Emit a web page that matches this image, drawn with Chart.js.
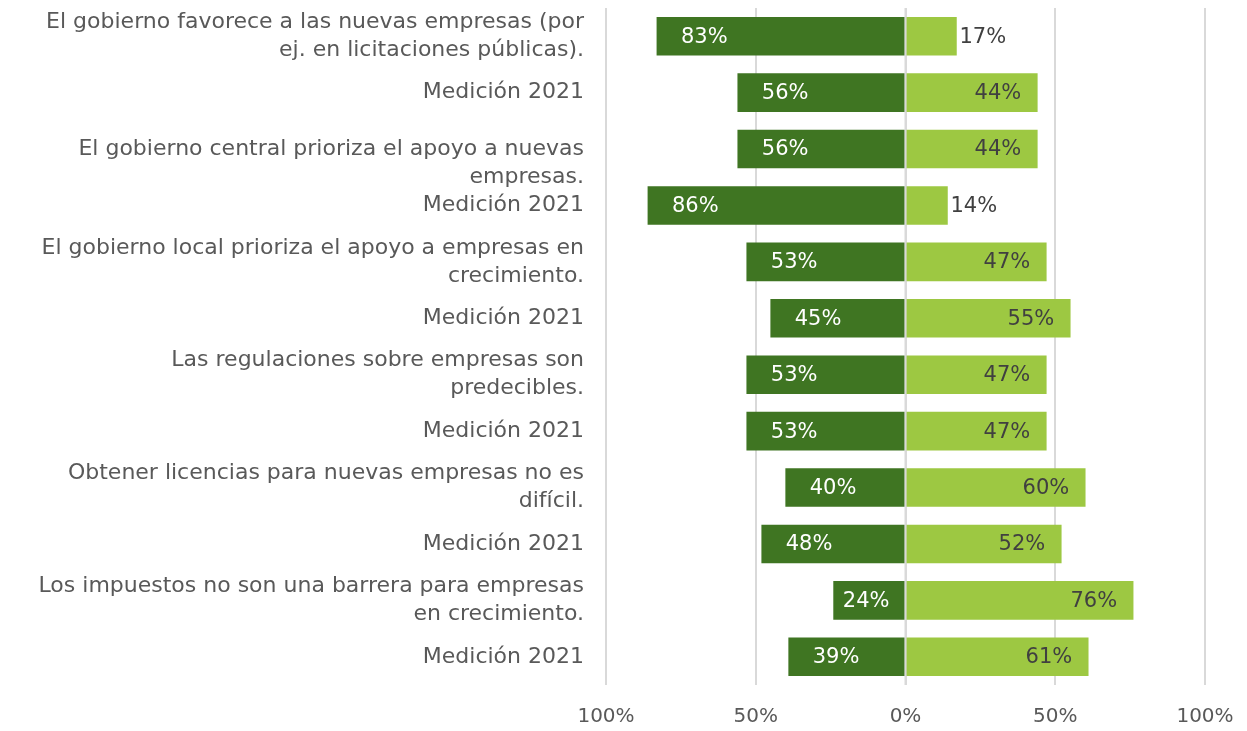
<!DOCTYPE html>
<html lang="es">
<head>
<meta charset="utf-8">
<script src="https://cdn.jsdelivr.net/npm/chart.js@4"></script>
<style>
  html, body { margin: 0; padding: 0; background: #fff; }
  #wrap { width: 1247px; height: 731px; }
</style>
</head>
<body>
<div id="wrap"><canvas id="chart"></canvas></div>
<script>
'use strict';

const FONT = "'DejaVu Sans', sans-serif";

const categories = [
  ['El gobierno favorece a las nuevas empresas (por', 'ej. en licitaciones públicas).'],
  'Medición 2021',
  ['', 'El gobierno central prioriza el apoyo a nuevas', 'empresas.'],
  'Medición 2021',
  ['El gobierno local prioriza el apoyo a empresas en', 'crecimiento.'],
  'Medición 2021',
  ['Las regulaciones sobre empresas son', 'predecibles.'],
  'Medición 2021',
  ['Obtener licencias para nuevas empresas no es', 'difícil.'],
  'Medición 2021',
  ['Los impuestos no son una barrera para empresas', 'en crecimiento.'],
  'Medición 2021'
];

// share of disagreement (drawn to the left) and agreement (to the right)
const disagree = [83, 56, 56, 86, 53, 45, 53, 53, 40, 48, 24, 39];
const agree = [17, 44, 44, 14, 47, 55, 47, 47, 60, 52, 76, 61];

const xTicks = [-100, -50, 0, 50, 100];

const COLORS = {
  dark: '#3f7522',
  light: '#9dc842',
  text: '#595959',
  valueDark: '#404040',
  grid: '#d9d9d9'
};

// value labels: left bars get white text near the outer end, right bars dark text
const valueLabels = {
  id: 'valueLabels',
  afterDatasetsDraw(chart) {
    const ctx = chart.ctx;
    const zero = chart.scales.x.getPixelForValue(0);
    ctx.save();
    ctx.font = '21px ' + FONT;
    ctx.textBaseline = 'middle';
    ctx.textAlign = 'left';
    chart.data.datasets.forEach((ds, di) => {
      chart.getDatasetMeta(di).data.forEach((bar, i) => {
        const txt = Math.abs(ds.data[i]) + '%';
        const w = ctx.measureText(txt).width;
        let left;
        if (di === 0) {
          ctx.fillStyle = '#ffffff';
          left = Math.min(bar.x + 24, zero - 16 - w);
        } else {
          ctx.fillStyle = COLORS.valueDark;
          if (bar.x - zero < w + 32) left = bar.x + 3;
          else left = bar.x - 16 - w;
        }
        ctx.fillText(txt, left, bar.y + 1);
      });
    });
    ctx.restore();
  }
};

// zero line sits above the bars
const zeroLine = {
  id: 'zeroLine',
  afterDatasetsDraw(chart) {
    const { ctx, chartArea } = chart;
    const x = chart.scales.x.getPixelForValue(0);
    ctx.save();
    ctx.strokeStyle = COLORS.grid;
    ctx.lineWidth = 2;
    ctx.beginPath();
    ctx.moveTo(x, chartArea.top);
    ctx.lineTo(x, chartArea.bottom);
    ctx.stroke();
    ctx.restore();
  }
};

new Chart(document.getElementById('chart'), {
  type: 'bar',
  data: {
    labels: categories,
    datasets: [
      { label: 'No', data: disagree.map(v => -v), backgroundColor: COLORS.dark, barThickness: 38 },
      { label: 'Sí', data: agree, backgroundColor: COLORS.light, barThickness: 38 }
    ]
  },
  options: {
    indexAxis: 'y',
    responsive: true,
    maintainAspectRatio: false,
    animation: false,
    layout: { padding: { top: 8, right: 42, left: 0, bottom: 0 } },
    plugins: { legend: { display: false }, tooltip: { enabled: false } },
    scales: {
      x: {
        stacked: true,
        min: -100,
        max: 100,
        afterBuildTicks: axis => { axis.ticks = xTicks.map(v => ({ value: v })); },
        afterFit: axis => {
          axis.height = 46;
          axis.paddingLeft = 0;
          axis.paddingRight = 0;
        },
        grid: { color: COLORS.grid, lineWidth: 2, drawTicks: false },
        border: { display: false },
        ticks: {
          padding: 20,
          color: COLORS.text,
          font: { family: FONT, size: 20 },
          maxRotation: 0,
          callback: v => Math.abs(v) + '%'
        }
      },
      y: {
        stacked: true,
        afterFit: axis => {
          axis.width = 606;
          axis.paddingTop = 0;
          axis.paddingBottom = 0;
        },
        grid: { display: false, drawTicks: false },
        border: { display: false },
        ticks: {
          padding: 22,
          color: COLORS.text,
          autoSkip: false,
          font: { family: FONT, size: 22, lineHeight: 1.27 }
        }
      }
    }
  },
  plugins: [zeroLine, valueLabels]
});
</script>
</body>
</html>
